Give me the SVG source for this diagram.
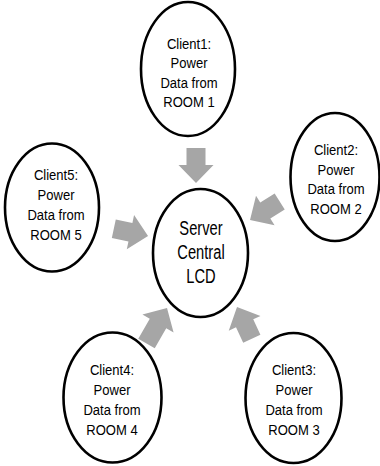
<svg xmlns="http://www.w3.org/2000/svg" xmlns:xlink="http://www.w3.org/1999/xlink" width="380" height="466" viewBox="0 0 380 466">
<style>
.node{fill:#fff;stroke:#000;stroke-width:2.6}
.t{font-family:"Liberation Sans",Arial,sans-serif;font-size:15px;fill:#000;text-anchor:middle}
.s{font-family:"Liberation Sans",Arial,sans-serif;font-size:21px;fill:#000;text-anchor:middle}
.arrow{fill:#a6a6a6}
</style>
<defs>
<polygon id="arr" points="0,-9.5 17,-9.5 17,-17.5 35,0 17,17.5 17,9.5 0,9.5"/>
<polygon id="arrL" points="0,-9.5 23,-9.5 23,-18 41,0 23,18 23,9.5 0,9.5"/>
</defs>
<rect width="380" height="466" fill="#fff"/>
<g id="connectors" class="arrow">
<use xlink:href="#arr" href="#arr" transform="translate(196,148) rotate(90)"/>
<use xlink:href="#arr" href="#arr" transform="translate(279.7,201.5) rotate(148)"/>
<use xlink:href="#arr" href="#arr" transform="translate(251.8,338.7) rotate(-115)"/>
<use xlink:href="#arrL" href="#arrL" transform="translate(146.5,343.5) rotate(-60)"/>
<use xlink:href="#arr" href="#arr" transform="translate(113.8,228.7) rotate(12)"/>
</g>
<g id="server">
<ellipse class="node" cx="200.5" cy="253" rx="47.5" ry="64"/>
<g transform="translate(201,0) scale(0.7,1)">
<text class="s" x="0" y="235">Server</text>
<text class="s" x="0" y="259">Central</text>
<text class="s" x="0" y="283">LCD</text>
</g>
</g>
<g id="client1">
<ellipse class="node" cx="188" cy="69" rx="47" ry="67"/>
<g transform="translate(189,0) scale(0.87,1)">
<text class="t" x="0" y="49">Client1:</text>
<text class="t" x="0" y="68.5">Power</text>
<text class="t" x="0" y="88">Data from</text>
<text class="t" x="0" y="107.5">ROOM 1</text>
</g>
</g>
<g id="client2">
<ellipse class="node" cx="335" cy="177" rx="44.5" ry="64"/>
<g transform="translate(336,0) scale(0.87,1)">
<text class="t" x="0" y="155.5">Client2:</text>
<text class="t" x="0" y="175">Power</text>
<text class="t" x="0" y="194.5">Data from</text>
<text class="t" x="0" y="214">ROOM 2</text>
</g>
</g>
<g id="client3">
<ellipse class="node" cx="293.5" cy="398" rx="48" ry="65"/>
<g transform="translate(294,0) scale(0.87,1)">
<text class="t" x="0" y="375">Client3:</text>
<text class="t" x="0" y="395">Power</text>
<text class="t" x="0" y="415">Data from</text>
<text class="t" x="0" y="435">ROOM 3</text>
</g>
</g>
<g id="client4">
<ellipse class="node" cx="112.5" cy="397.5" rx="49" ry="65"/>
<g transform="translate(112,0) scale(0.87,1)">
<text class="t" x="0" y="375">Client4:</text>
<text class="t" x="0" y="395">Power</text>
<text class="t" x="0" y="415">Data from</text>
<text class="t" x="0" y="435">ROOM 4</text>
</g>
</g>
<g id="client5">
<ellipse class="node" cx="52" cy="207.5" rx="47" ry="64"/>
<g transform="translate(56,0) scale(0.87,1)">
<text class="t" x="0" y="180">Client5:</text>
<text class="t" x="0" y="200">Power</text>
<text class="t" x="0" y="220">Data from</text>
<text class="t" x="0" y="240">ROOM 5</text>
</g>
</g>
</svg>
